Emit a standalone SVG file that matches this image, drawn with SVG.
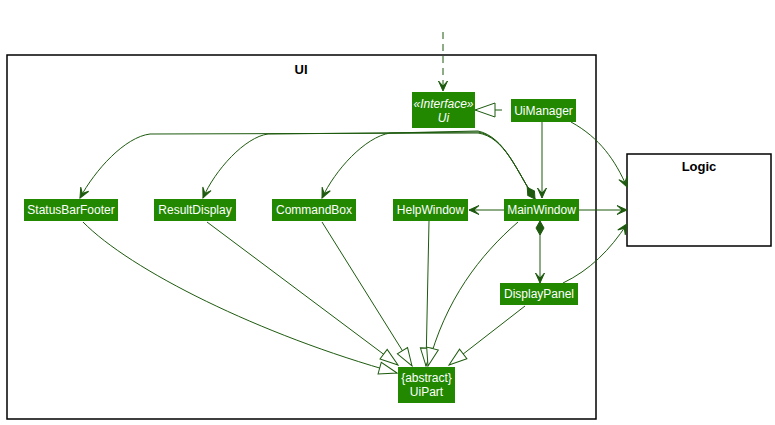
<svg xmlns="http://www.w3.org/2000/svg" width="775" height="425" viewBox="0 0 775 425">
<defs>
<style>
.node rect{fill:#228800;}
.node text{fill:#ffffff;font-family:"Liberation Sans",Arial,sans-serif;font-size:12px;text-anchor:middle;}
.it{font-style:italic;}
.frame{fill:none;stroke:#000;stroke-width:1.5;}
.ftitle{font-family:"Liberation Sans",Arial,sans-serif;font-size:13px;font-weight:bold;text-anchor:middle;fill:#000;}
.c{fill:none;stroke:#1d5a0e;stroke-width:1;}
</style>
<marker id="arr" markerUnits="userSpaceOnUse" markerWidth="14" markerHeight="14" viewBox="-12 -7 14 14" refX="0" refY="0" orient="auto">
<path d="M0,0 L-10,-4.5 L-5,0 L-10,4.5 Z" fill="#1d5a0e" stroke="#1d5a0e" stroke-width="1"/>
</marker>
<marker id="tri" markerUnits="userSpaceOnUse" markerWidth="22" markerHeight="16" viewBox="-20 -8 22 16" refX="0" refY="0" orient="auto">
<path d="M0,0 L-18,-6 L-18,6 Z" fill="#ffffff" stroke="#1d5a0e" stroke-width="1"/>
</marker>
<marker id="dia" markerUnits="userSpaceOnUse" markerWidth="18" markerHeight="12" viewBox="-1 -6 18 12" refX="0" refY="0" orient="auto">
<path d="M0,0 L7,-4 L14,0 L7,4 Z" fill="#1d5a0e" stroke="#1d5a0e" stroke-width="1"/>
</marker>
</defs>
<rect width="775" height="425" fill="#ffffff"/>

<g id="UI">
<rect class="frame" x="7" y="55" width="589" height="364"/>
<text class="ftitle" x="301" y="74">UI</text>
</g>
<g id="Logic">
<rect class="frame" x="627" y="154" width="144" height="92"/>
<text class="ftitle" x="699" y="171">Logic</text>
</g>

<g id="connectors">
<path class="c" d="M443,32 L443,91" stroke-dasharray="7,5" marker-end="url(#arr)"/>
<path class="c" d="M502,110 L495,110"/>
<polygon points="475,110 495,103 495,117" fill="#ffffff" stroke="#1d5a0e" stroke-width="1"/>
<path class="c" d="M542,122 L542,198" marker-end="url(#arr)"/>
<path class="c" d="M571,122 C600,138 615,160 627,187" marker-end="url(#arr)"/>
<path class="c" d="M579,210 L627,210" marker-end="url(#arr)"/>
<path class="c" d="M563,283 C590,270 610,250 627,224" marker-end="url(#arr)"/>
<path class="c" d="M504,210 L469,210" marker-end="url(#arr)"/>
<path class="c" d="M540,221 L540,283" marker-start="url(#dia)" marker-end="url(#arr)"/>
<path class="c" d="M535,199 C517,172 505,137 478,133 L150,134 C125,137 95,170 80,198" marker-start="url(#dia)" marker-end="url(#arr)"/>
<path class="c" d="M535,199 C517,172 505,137 478,132 L268,134 C245,137 215,170 203,198" marker-end="url(#arr)"/>
<path class="c" d="M535,199 C517,172 505,137 478,131 L390,133 C365,137 335,170 322,198" marker-end="url(#arr)"/>
<path class="c" d="M83,222 C130,270 260,335 397,373" marker-end="url(#tri)"/>
<path class="c" d="M207,222 L398,365" marker-end="url(#tri)"/>
<path class="c" d="M322,222 L412,366" marker-end="url(#tri)"/>
<path class="c" d="M429,221 L426,366" marker-end="url(#tri)"/>
<path class="c" d="M518,222 C480,255 445,300 428,366" marker-end="url(#tri)"/>
<path class="c" d="M525,306 L449,365" marker-end="url(#tri)"/>
</g>

<g id="Ui" class="node">
<rect x="412" y="92" width="63" height="36"/>
<text class="it" x="443.5" y="108">«Interface»</text>
<text class="it" x="443.5" y="122">Ui</text>
</g>
<g id="UiManager" class="node">
<rect x="511" y="99" width="65" height="23"/>
<text x="543.5" y="115">UiManager</text>
</g>
<g id="StatusBarFooter" class="node">
<rect x="24" y="199" width="94" height="22"/>
<text x="71" y="214">StatusBarFooter</text>
</g>
<g id="ResultDisplay" class="node">
<rect x="154" y="199" width="82" height="22"/>
<text x="195" y="214">ResultDisplay</text>
</g>
<g id="CommandBox" class="node">
<rect x="272" y="199" width="84" height="22"/>
<text x="314" y="214">CommandBox</text>
</g>
<g id="HelpWindow" class="node">
<rect x="393" y="199" width="75" height="22"/>
<text x="430.5" y="214">HelpWindow</text>
</g>
<g id="MainWindow" class="node">
<rect x="504" y="199" width="75" height="22"/>
<text x="541.5" y="214">MainWindow</text>
</g>
<g id="DisplayPanel" class="node">
<rect x="500" y="283" width="78" height="22"/>
<text x="539" y="298">DisplayPanel</text>
</g>
<g id="UiPart" class="node">
<rect x="398" y="367" width="57" height="36"/>
<text x="426.5" y="382">{abstract}</text>
<text x="426.5" y="396">UiPart</text>
</g>
</svg>
